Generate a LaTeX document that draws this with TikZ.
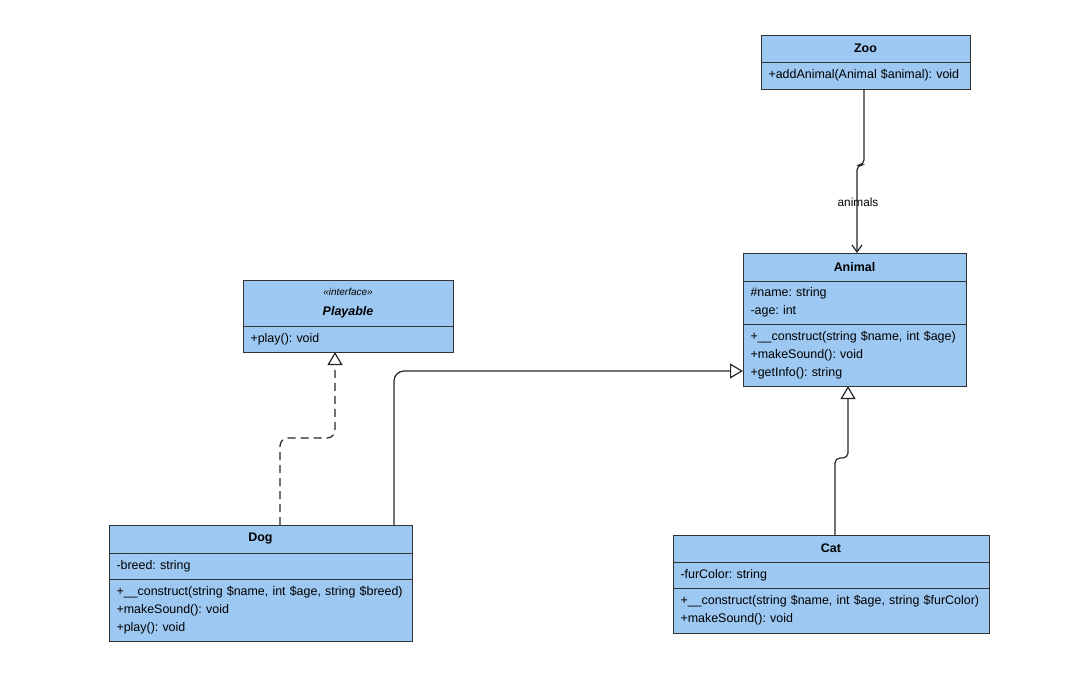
\documentclass[tikz,border=0pt]{standalone}
\usepackage{fontspec}
\setmainfont{Liberation Sans}
\usetikzlibrary{arrows.meta,calc}
\definecolor{umlfill}{HTML}{9DC8F2}
\definecolor{umlline}{HTML}{333333}
\frenchspacing

\begin{document}
\begin{tikzpicture}[
  x=1pt, y=-1pt,
  head/.style={draw=umlline, fill=umlfill, line width=0.9pt, inner sep=0pt, outer sep=0pt, align=center, font=\fontsize{12.45}{17.5}\selectfont\bfseries},
  part/.style={draw=umlline, fill=umlfill, line width=0.9pt, anchor=north, inner xsep=7.5pt, inner ysep=0pt, outer sep=0pt, align=left, font=\fontsize{12.45}{17.8}\selectfont},
  link/.style={draw=black!85, line width=1.2pt},
  inherit/.style={link, -{Triangle[open, length=13pt, width=15pt]}},
  realize/.style={inherit, dash pattern=on 8pt off 5pt},
  assoc/.style={link, -{Straight Barb[length=7pt, width=10pt]}},
  lbl/.style={font=\fontsize{11.8}{13}\selectfont}
]
\useasboundingbox (0,0) rectangle (1078,681);

% Zoo
\node[head, minimum width=209pt, minimum height=27pt] (zoo) at (865.5,48.5) {Zoo};
\node[part, text width=194pt, minimum height=27pt] (zooOps) at (zoo.south) {+addAnimal(Animal \$animal): void};

% Playable
\node[head, minimum width=210pt, minimum height=46pt] (play) at (348,303)
  {{\fontsize{10}{12}\selectfont\mdseries\itshape «interface»}\\[3pt]{\itshape Playable}};
\node[part, text width=195pt, minimum height=26pt] (playOps) at (play.south) {+play(): void};

% Animal
\node[head, minimum width=223pt, minimum height=28pt] (animal) at (854.5,267) {Animal};
\node[part, text width=208pt, minimum height=43pt] (animalAttrs) at (animal.south) {\#name: string\\-age: int};
\node[part, text width=208pt, minimum height=62pt] (animalOps) at (animalAttrs.south)
  {+\_\_construct(string \$name, int \$age)\\+makeSound(): void\\+getInfo(): string};

% Dog
\node[head, minimum width=303pt, minimum height=28pt] (dog) at (260.5,539) {Dog};
\node[part, text width=288pt, minimum height=26pt] (dogAttrs) at (dog.south) {-breed: string};
\node[part, text width=288pt, minimum height=62pt] (dogOps) at (dogAttrs.south)
  {+\_\_construct(string \$name, int \$age, string \$breed)\\+makeSound(): void\\+play(): void};

% Cat
\node[head, minimum width=316pt, minimum height=27pt] (cat) at (831,548.5) {Cat};
\node[part, text width=301pt, minimum height=26pt] (catAttrs) at (cat.south) {-furColor: string};
\node[part, text width=301pt, minimum height=45pt] (catOps) at (catAttrs.south)
  {+\_\_construct(string \$name, int \$age, string \$furColor)\\+makeSound(): void};

% connectors
\draw[assoc, rounded corners=5pt] ($(zooOps.south)+(-1.5,0)$) -- ++(0,76) -| ($(animal.north)+(2.5,0)$);
\node[lbl] (assocLbl) at (858,202) {animals};
\draw[inherit, rounded corners=10pt] ($(dog.north east)+(-18,0)$) |- ($(animalOps.west)+(0,16)$);
\draw[realize, rounded corners=8pt] ($(dog.north)+(19.5,0)$) |- ($(playOps.south)+(-13,86)$) -- ($(playOps.south)+(-13,0)$);
\draw[inherit, rounded corners=5pt] ($(cat.north)+(4,0)$) -- ++(0,-77) -| ($(animalOps.south)+(-6.5,0)$);
\end{tikzpicture}
\end{document}
